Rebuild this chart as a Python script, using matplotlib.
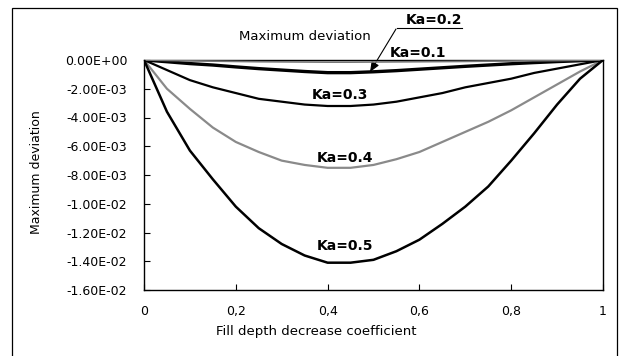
import matplotlib
matplotlib.use("Agg")
import matplotlib.pyplot as plt
from matplotlib.patches import Rectangle
from matplotlib.lines import Line2D

# ---- data ----
fill_coef = [0.0, 0.05, 0.1, 0.15, 0.2, 0.25, 0.3, 0.35, 0.4, 0.45, 0.5,
             0.55, 0.6, 0.65, 0.7, 0.75, 0.8, 0.85, 0.9, 0.95, 1.0]
ka01 = [0, -0.00003, -0.00006, -0.00008, -0.0001, -0.00012, -0.00013, -0.00014, -0.00015, -0.00015, -0.00014,
        -0.00013, -0.00012, -0.00011, -0.0001, -0.00008, -0.00007, -0.00005, -0.00004, -0.00002, 0]
ka02 = [0, -0.00012, -0.00025, -0.00035, -0.00048, -0.0006, -0.0007, -0.0008, -0.00088, -0.00088, -0.00082,
        -0.00074, -0.00064, -0.00054, -0.00044, -0.00035, -0.00026, -0.00018, -0.00011, -0.00005, 0]
ka03 = [0, -0.0007, -0.0014, -0.0019, -0.0023, -0.0027, -0.0029, -0.0031, -0.0032, -0.0032, -0.0031,
        -0.0029, -0.0026, -0.0023, -0.0019, -0.0016, -0.0013, -0.0009, -0.0006, -0.0003, 0]
ka04 = [0, -0.0020, -0.0034, -0.0047, -0.0057, -0.0064, -0.0070, -0.0073, -0.0075, -0.0075, -0.0073,
        -0.0069, -0.0064, -0.0057, -0.0050, -0.0043, -0.0035, -0.0026, -0.0017, -0.0008, 0]
ka05 = [0, -0.0036, -0.0063, -0.0083, -0.0102, -0.0117, -0.0128, -0.0136, -0.0141, -0.0141, -0.0139,
        -0.0133, -0.0125, -0.0114, -0.0102, -0.0088, -0.0070, -0.0051, -0.0031, -0.0013, 0]

series_labels = ["Ka=0.1", "Ka=0.2", "Ka=0.3", "Ka=0.4", "Ka=0.5"]
x_ticks = [0, 0.2, 0.4, 0.6, 0.8, 1.0]
x_tick_labels = ["0", "0,2", "0,4", "0,6", "0,8", "1"]
y_ticks = [0, -0.002, -0.004, -0.006, -0.008, -0.010, -0.012, -0.014, -0.016]
y_tick_labels = ["0.00E+00", "-2.00E-03", "-4.00E-03", "-6.00E-03", "-8.00E-03",
                 "-1.00E-02", "-1.20E-02", "-1.40E-02", "-1.60E-02"]

W, H = 620, 356
fig = plt.figure(figsize=(W / 100, H / 100), dpi=100)
plt.rcParams['font.family'] = ['DejaVu Sans']

def px(x, y):
    return (x / W, 1 - y / H)

L, R, T, B = 144, 603, 60, 290
ax = fig.add_axes([L / W, 1 - B / H, (R - L) / W, (B - T) / H])

ax.plot(fill_coef, ka05, color="black", lw=1.8, zorder=5)
ax.plot(fill_coef, ka04, color="#8a8a8a", lw=1.6, zorder=4)
ax.plot(fill_coef, ka03, color="black", lw=1.6, zorder=4)
ax.plot(fill_coef, ka02, color="black", lw=2.4, zorder=4)
ax.plot(fill_coef, ka01, color="#777777", lw=1.2, zorder=4)

ax.set_xlim(0, 1)
ax.set_ylim(-0.016, 0)
ax.set_xticks(x_ticks)
ax.set_xticklabels(x_tick_labels)
ax.set_yticks(y_ticks)
ax.set_yticklabels(y_tick_labels)
ax.tick_params(direction="in", length=4, width=0.8, labelsize=9, color="black")
ax.tick_params(axis="y", pad=12)
ax.tick_params(axis="x", pad=11)
for s in ax.spines.values():
    s.set_linewidth(1.0)
    s.set_color("black")

fig.text(*px(316, 332), "Fill depth decrease coefficient", ha="center", va="center", fontsize=9.5)
fig.text(*px(37, 172), "Maximum deviation", ha="center", va="center", rotation=90, fontsize=9)

# curve labels
fig.text(*px(345, 246), series_labels[4], ha="center", va="center", fontsize=10, fontweight="bold")
fig.text(*px(345, 158), series_labels[3], ha="center", va="center", fontsize=10, fontweight="bold")
fig.text(*px(340, 95), series_labels[2], ha="center", va="center", fontsize=10, fontweight="bold")
fig.text(*px(418, 53), series_labels[0], ha="center", va="center", fontsize=10, fontweight="bold")
fig.text(*px(434, 20), series_labels[1], ha="center", va="center", fontsize=10, fontweight="bold")
fig.text(*px(305, 36), "Maximum deviation", ha="center", va="center", fontsize=9.5)

# leader lines
fig.add_artist(Line2D([397 / W, 462 / W], [1 - 28 / H, 1 - 28 / H], color="black", lw=0.8))
fig.add_artist(Line2D([438 / W - 0.07, 440 / W], [1 - 59 / H, 1 - 59 / H], color="black", lw=0.0))
ax.annotate("", xy=px(370, 72), xycoords="figure fraction",
            xytext=px(396, 29), textcoords="figure fraction",
            arrowprops=dict(arrowstyle="-|>,head_length=0.6,head_width=0.25", color="black", lw=0.8,
                            shrinkA=0, shrinkB=0))

# outer frame
fig.add_artist(Rectangle((12 / W, 1 - 360 / H), (617 - 12) / W, (360 - 8) / H,
                         fill=False, edgecolor="black", lw=0.9, transform=fig.transFigure))

fig.savefig("out.png", dpi=100)
